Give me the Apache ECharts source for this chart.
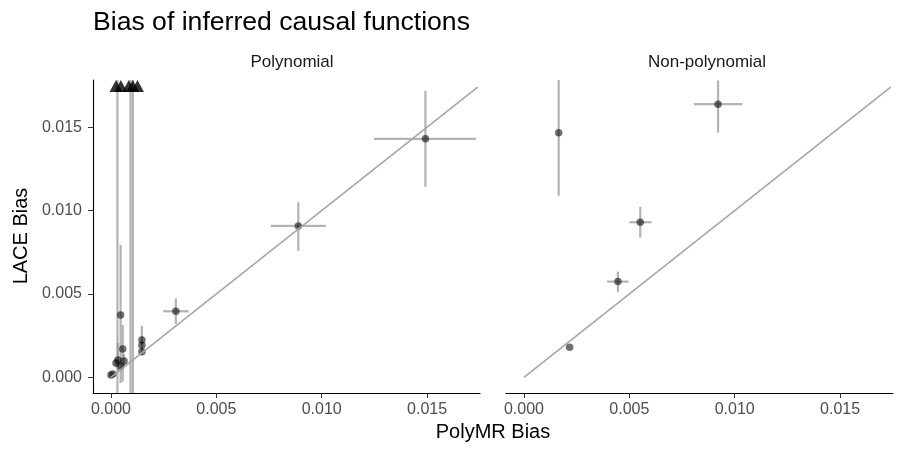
<!DOCTYPE html>
<html>
<head>
<meta charset="utf-8">
<script src="https://cdn.jsdelivr.net/npm/echarts@6/dist/echarts.min.js"></script>
<style>
  html, body { margin: 0; padding: 0; background: #fff; }
  #chart { width: 902px; height: 450px; }
</style>
</head>
<body>
<div id="chart"></div>
<script>
// tick labels shared by both panels
const tickValues = [0, 0.005, 0.01, 0.015];

// Polynomial panel: point estimates and error bar ends
const polyX    = [0.01492, 0.00889, 0.00308, 0.00147, 0.00147, 0.00147, 0.00046, 0.00056, 0.00033, 0.00062, 0.00047, 0.00024, 0.00009, 0.00000];
const polyY    = [0.01430, 0.00908, 0.00396, 0.00224, 0.00192, 0.00154, 0.00374, 0.00170, 0.00104, 0.00098, 0.00068, 0.00086, 0.00020, 0.00014];
const polyXLo  = [0.01248, 0.00759, 0.00248, 0.00147, 0.00147, 0.00147, 0.00046, 0.00056, 0.00033, 0.00062, 0.00047, 0.00024, 0.00009, 0.00000];
const polyXHi  = [0.01732, 0.01019, 0.00369, 0.00147, 0.00147, 0.00147, 0.00046, 0.00056, 0.00033, 0.00062, 0.00047, 0.00024, 0.00009, 0.00000];
const polyYLo  = [0.01142, 0.00758, 0.00320, 0.00190, 0.00160, 0.00134, -0.00034, -0.00026, 0.00034, 0.00060, 0.00040, 0.00060, 0.00020, 0.00014];
const polyYHi  = [0.01717, 0.01050, 0.00472, 0.00308, 0.00250, 0.00190, 0.00794, 0.00314, 0.00206, 0.00140, 0.00100, 0.00110, 0.00020, 0.00014];

// Polynomial panel: estimates beyond the y range (drawn as triangles at the top)
const outX     = [0.00024, 0.00047, 0.00085, 0.00104, 0.00126];
const outYTop  = 0.01747;
const outBarX  = [0.00031, 0.00093, 0.00104];
const outBarLo = [-0.004, -0.004, -0.004];
const outBarHi = [0.03, 0.03, 0.03];

// Non-polynomial panel
const nonX   = [0.00165, 0.00921, 0.00552, 0.00446, 0.00217];
const nonY   = [0.01467, 0.01638, 0.00930, 0.00574, 0.00180];
const nonXLo = [0.00165, 0.00807, 0.00500, 0.00394, 0.00217];
const nonXHi = [0.00165, 0.01036, 0.00606, 0.00497, 0.00217];
const nonYLo = [0.01089, 0.01467, 0.00837, 0.00510, 0.00180];
const nonYHi = [0.0190, 0.0178, 0.01022, 0.00634, 0.00180];

// identity line end
const lineMax = 0.0174;

const FONT = '"Liberation Sans", Arial, sans-serif';
const xMin = -0.00085, xMax = 0.01751;
const yMin = -0.00094, yMax = 0.01783;

function rows(x, y, xl, xh, yl, yh) {
    return x.map((v, i) => [v, y[i], xl[i], xh[i], yl[i], yh[i]]);
}

function renderBars(params, api) {
    const cs = params.coordSys;
    const clampY = (p) => Math.max(cs.y, Math.min(cs.y + cs.height, p));
    const clampX = (p) => Math.max(cs.x, Math.min(cs.x + cs.width, p));
    const x = api.value(0), y = api.value(1);
    const a = api.coord([api.value(2), y]);
    const b = api.coord([api.value(3), y]);
    const c = api.coord([x, api.value(4)]);
    const d = api.coord([x, api.value(5)]);
    const style = { stroke: 'rgba(150,150,150,0.72)', lineWidth: 2.2 };
    const children = [];
    if (Math.abs(b[0] - a[0]) > 0.5) {
        children.push({ type: 'line', shape: { x1: clampX(a[0]), y1: a[1], x2: clampX(b[0]), y2: b[1] }, style: style });
    }
    if (Math.abs(d[1] - c[1]) > 0.5) {
        children.push({ type: 'line', shape: { x1: c[0], y1: clampY(c[1]), x2: d[0], y2: clampY(d[1]) }, style: style });
    }
    return { type: 'group', children: children };
}

function xAxisFor(gridIndex) {
    return {
        type: 'value', gridIndex: gridIndex, min: xMin, max: xMax,
        axisLine: { onZero: false, lineStyle: { color: '#000', width: 1.1 } },
        axisTick: { customValues: tickValues, length: 5, lineStyle: { color: '#333' } },
        axisLabel: {
            customValues: tickValues, margin: 9, color: '#4d4d4d', fontSize: 16, fontFamily: FONT,
            formatter: (v) => v.toFixed(3)
        },
        splitLine: { show: false }
    };
}

const chart = echarts.init(document.getElementById('chart'), null, { renderer: 'canvas' });

const option = {
    backgroundColor: '#fff',
    animation: false,
    title: {
        text: 'Bias of inferred causal functions',
        left: 93, top: 9, padding: 0,
        textStyle: { fontFamily: FONT, fontSize: 26.6, fontWeight: 'normal', color: '#000' }
    },
    grid: [
        { left: 93, top: 80, width: 387, height: 313 },
        { left: 506, top: 80, width: 387, height: 313 }
    ],
    xAxis: [xAxisFor(0), xAxisFor(1)],
    yAxis: [
        {
            type: 'value', gridIndex: 0, min: yMin, max: yMax,
            axisLine: { show: true, onZero: false, lineStyle: { color: '#000', width: 1.1 } },
            axisTick: { show: true, customValues: tickValues, length: 5, lineStyle: { color: '#333' } },
            axisLabel: {
                customValues: tickValues, margin: 11, color: '#4d4d4d', fontSize: 16, fontFamily: FONT,
                formatter: (v) => v.toFixed(3)
            },
            splitLine: { show: false }
        },
        {
            type: 'value', gridIndex: 1, min: yMin, max: yMax,
            axisLine: { show: false }, axisTick: { show: false }, axisLabel: { show: false },
            splitLine: { show: false }
        }
    ],
    graphic: [
        { type: 'text', x: 292, y: 62, style: { text: 'Polynomial', fontSize: 17, fontFamily: FONT, fill: '#1a1a1a', align: 'center', verticalAlign: 'middle' } },
        { type: 'text', x: 707, y: 62, style: { text: 'Non-polynomial', fontSize: 17, fontFamily: FONT, fill: '#1a1a1a', align: 'center', verticalAlign: 'middle' } },
        { type: 'text', x: 493, y: 432, style: { text: 'PolyMR Bias', fontSize: 20, fontFamily: FONT, fill: '#000', align: 'center', verticalAlign: 'middle' } },
        { type: 'text', x: 21, y: 236, rotation: Math.PI / 2, style: { text: 'LACE Bias', fontSize: 20, fontFamily: FONT, fill: '#000', align: 'center', verticalAlign: 'middle' } }
    ],
    series: [
        {
            type: 'line', xAxisIndex: 0, yAxisIndex: 0, symbol: 'none', silent: true,
            data: [[0, 0], [lineMax, lineMax]],
            lineStyle: { color: '#a6a6a6', width: 1.6 }
        },
        {
            type: 'line', xAxisIndex: 1, yAxisIndex: 1, symbol: 'none', silent: true,
            data: [[0, 0], [lineMax, lineMax]],
            lineStyle: { color: '#a6a6a6', width: 1.6 }
        },
        {
            type: 'custom', xAxisIndex: 0, yAxisIndex: 0, clip: true, renderItem: renderBars,
            data: rows(polyX, polyY, polyXLo, polyXHi, polyYLo, polyYHi)
        },
        {
            type: 'custom', xAxisIndex: 0, yAxisIndex: 0, clip: true, renderItem: renderBars,
            data: rows(outBarX, outBarX.map(() => outYTop), outBarX, outBarX, outBarLo, outBarHi)
        },
        {
            type: 'custom', xAxisIndex: 1, yAxisIndex: 1, clip: true, renderItem: renderBars,
            data: rows(nonX, nonY, nonXLo, nonXHi, nonYLo, nonYHi)
        },
        {
            type: 'scatter', xAxisIndex: 0, yAxisIndex: 0, symbolSize: 7.5,
            itemStyle: { color: 'rgba(0,0,0,0.7)' },
            data: polyX.map((v, i) => [v, polyY[i]])
        },
        {
            type: 'scatter', xAxisIndex: 0, yAxisIndex: 0, symbol: 'triangle', symbolSize: [13, 12],
            itemStyle: { color: '#000' },
            data: outX.map((v) => [v, outYTop])
        },
        {
            type: 'scatter', xAxisIndex: 1, yAxisIndex: 1, symbolSize: 7.5,
            itemStyle: { color: 'rgba(0,0,0,0.7)' },
            data: nonX.map((v, i) => [v, nonY[i]])
        }
    ]
};

chart.setOption(option);
</script>
</body>
</html>
